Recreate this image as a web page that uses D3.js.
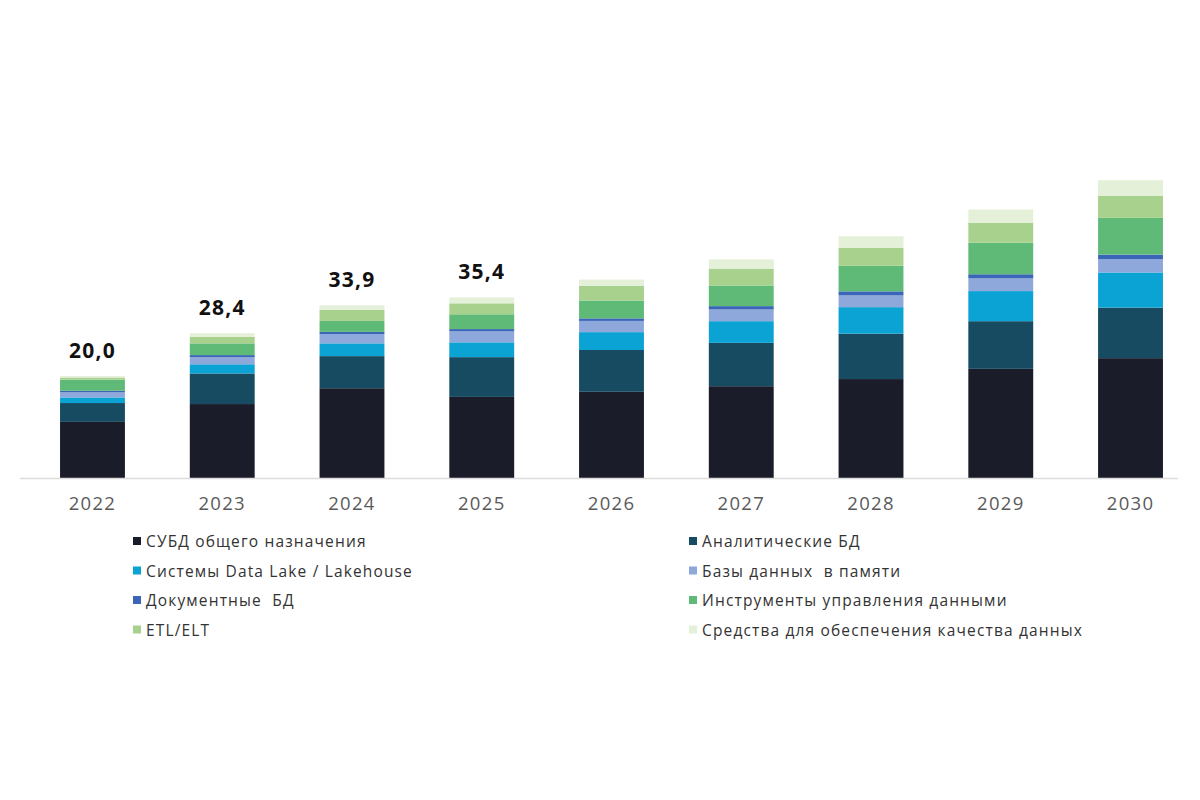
<!DOCTYPE html>
<html>
<head>
<meta charset="utf-8">
<script src="https://cdn.jsdelivr.net/npm/d3@7"></script>
<style>
    body { margin: 0; background: #fff; }
    text { font-family: "Open Sans", "Noto Sans", sans-serif; white-space: pre; }
</style>
</head>
<body>
<svg id="chart" width="1200" height="800"></svg>
<script>
const years = ['2022', '2023', '2024', '2025', '2026', '2027', '2028', '2029', '2030'];

const seriesNames = [
    'СУБД общего назначения',
    'Аналитические БД',
    'Системы Data Lake / Lakehouse',
    'Базы данных  в памяти',
    'Документные  БД',
    'Инструменты управления данными',
    'ETL/ELT',
    'Средства для обеспечения качества данных'
];

// values, bottom to top
const generalDb   = [11.0, 14.5, 17.6, 15.9, 16.9, 18.0, 19.4, 21.4, 23.5];
const analyticDb  = [3.7, 6.0, 6.3, 7.8, 8.2, 8.5, 8.9, 9.35, 9.9];
const dataLake    = [1.1, 1.8, 2.5, 2.9, 3.5, 4.25, 5.2, 5.9, 6.9];
const inMemoryDb  = [1.0, 1.4, 1.8, 2.15, 2.2, 2.3, 2.3, 2.5, 2.6];
const documentDb  = [0.3, 0.4, 0.45, 0.45, 0.5, 0.65, 0.8, 0.8, 0.9];
const dataMgmt    = [2.2, 2.3, 2.15, 2.9, 3.5, 4.05, 5.0, 6.2, 7.2];
const etlElt      = [0.4, 1.3, 2.2, 2.15, 2.9, 3.3, 3.5, 3.9, 4.3];
const dataQuality = [0.3, 0.7, 0.85, 1.15, 1.2, 1.8, 2.3, 2.6, 3.1];

const totalLabels = ['20,0', '28,4', '33,9', '35,4', '', '', '', '', ''];

const seriesValues = [generalDb, analyticDb, dataLake, inMemoryDb, documentDb, dataMgmt, etlElt, dataQuality];
const colors = ['#1b1c2a', '#174b62', '#0ba2d4', '#8fa8dc', '#3b66b8', '#5fba78', '#a8d18d', '#e4f0d8'];

const BASE_Y = 478;
const svg = d3.select('#chart');
const g = svg.append('g');

// table for d3.stack
const table = years.map(function (year, i) {
    let row = { year: year };
    seriesNames.forEach(function (name, k) {
        row[name] = seriesValues[k][i];
    });
    return row;
});

const stacked = d3.stack().keys(seriesNames)(table);

const x = d3.scaleBand()
    .domain(years)
    .range([27.6, 1195.4])
    .paddingInner(0.5)
    .paddingOuter(0.25);

const y = d3.scaleLinear()
    .domain([0, 60])
    .range([BASE_Y, BASE_Y - 60 * 5.1]);

// bars
g.selectAll('g.layer')
    .data(stacked)
    .join('g')
    .attr('class', 'layer')
    .attr('fill', (d, i) => colors[i])
    .selectAll('rect')
    .data(d => d)
    .join('rect')
    .attr('x', d => x(d.data.year))
    .attr('width', x.bandwidth())
    .attr('y', d => y(d[1]))
    .attr('height', d => y(d[0]) - y(d[1]));

// x axis
const axis = g.append('g')
    .attr('transform', 'translate(0,' + (BASE_Y + 0.5) + ')')
    .call(d3.axisBottom(x).tickSize(0).tickPadding(18));

axis.select('.domain')
    .attr('d', 'M20,0H1178')
    .attr('stroke', '#dcdcdc')
    .attr('stroke-width', 1.5);

axis.selectAll('text')
    .attr('font-size', 18.5)
    .attr('letter-spacing', 1.3)
    .attr('fill', '#5a5a5a')
    .attr('font-family', '"Open Sans", sans-serif');

// totals above the first bars
const topLayer = stacked[stacked.length - 1];
g.selectAll('text.total')
    .data(topLayer)
    .join('text')
    .attr('class', 'total')
    .attr('x', d => x(d.data.year) + x.bandwidth() / 2)
    .attr('y', d => y(d[1]) - 18)
    .attr('text-anchor', 'middle')
    .attr('font-size', 21)
    .attr('font-weight', 'bold')
    .attr('letter-spacing', 1.2)
    .attr('fill', '#111')
    .text((d, i) => totalLabels[i]);

// legend, two columns
const legend = g.append('g');
seriesNames.forEach(function (name, i) {
    let col = i % 2;
    let row = Math.floor(i / 2);
    let lx = col === 0 ? 133 : 689;
    let ly = 541 + row * 29.5;

    legend.append('rect')
        .attr('x', lx)
        .attr('y', ly - 4)
        .attr('width', 8)
        .attr('height', 8)
        .attr('fill', colors[i]);

    legend.append('text')
        .attr('x', lx + 13)
        .attr('y', ly)
        .attr('dominant-baseline', 'central')
        .attr('font-size', 15.5)
        .attr('letter-spacing', 1.15)
        .attr('fill', '#333')
        .text(name);
});
</script>
</body>
</html>
